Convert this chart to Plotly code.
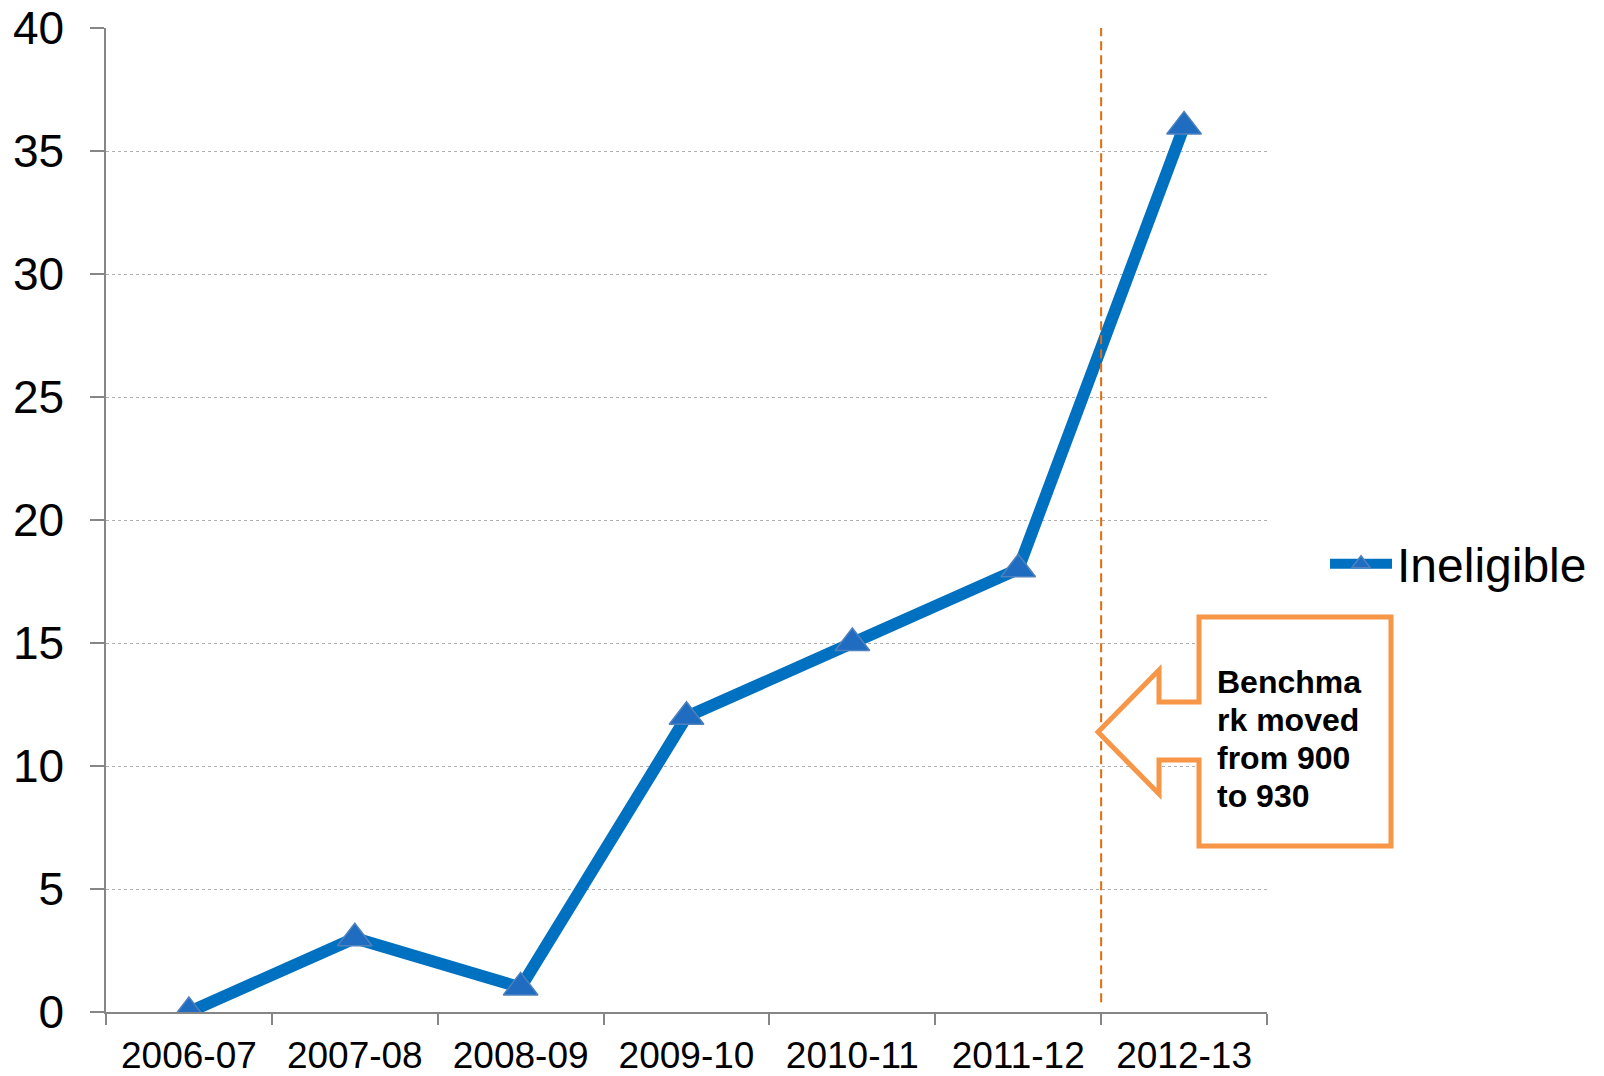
import plotly.graph_objects as go

categories = ["2006-07", "2007-08", "2008-09", "2009-10", "2010-11", "2011-12", "2012-13"]
ineligible = [0, 3, 1, 12, 15, 18, 36]
y_ticks = [0, 5, 10, 15, 20, 25, 30, 35, 40]
callout_lines = ["Benchma", "rk moved", "from 900", "to 930"]
series_name = "Ineligible"

OFF = 8  # default page body margin
W, H = 1604 - OFF, 1076 - OFF
L, R, T, B = 106, 1267, 28, 1012  # plot area edges in window pixels


def px(x):
    return (x - L) / (R - L)


def py(y):
    return (B - y) / (B - T)


FONT = "Liberation Sans, Arial, sans-serif"

fig = go.Figure()
fig.add_trace(go.Scatter(
    x=categories, y=ineligible, name=series_name, mode="lines+markers",
    line=dict(color="#0070C0", width=12),
    marker=dict(symbol="triangle-up", size=30, color="#1F6CC0",
                line=dict(color="#4F81BD", width=1.5)),
))

# benchmark change marker between 2011-12 and 2012-13
fig.add_shape(type="line", xref="x", yref="y", x0=5.5, x1=5.5, y0=0.4, y1=40,
              line=dict(color="#E46C0A", width=2, dash="9px,5px"), layer="above")

# callout arrow box
pts = [(1098, 732), (1159, 670), (1159, 702), (1199, 702), (1199, 617), (1391, 617),
       (1391, 846), (1199, 846), (1199, 760), (1159, 760), (1159, 794)]
path = "M " + " L ".join(f"{px(a):.5f},{py(b):.5f}" for a, b in pts) + " Z"
fig.add_shape(type="path", xref="paper", yref="paper", path=path,
              fillcolor="white", line=dict(color="#F79646", width=5), layer="above")
for i, line_text in enumerate(callout_lines):
    fig.add_annotation(xref="paper", yref="paper", x=px(1215), y=py(682 + 38 * i),
                       xanchor="left", yanchor="middle", align="left", showarrow=False,
                       text=line_text,
                       font=dict(family=FONT, size=32, color="black", weight="bold"))

fig.update_layout(
    width=W, height=H, plot_bgcolor="white", paper_bgcolor="white",
    margin=dict(l=L - OFF, r=W - (R - OFF), t=T - OFF, b=H - (B - OFF), pad=0,
                autoexpand=False),
    font=dict(family=FONT, color="black"),
    showlegend=True,
    legend=dict(xref="container", yref="container",
                x=(1325 - OFF) / W, xanchor="left",
                y=1 - (564 - OFF) / H, yanchor="middle",
                font=dict(family=FONT, size=48, color="black"),
                bgcolor="rgba(0,0,0,0)", itemwidth=62),
)
fig.update_xaxes(
    type="category", range=[-0.5, 6.5], tickson="boundaries", ticks="outside",
    ticklen=11, tickcolor="#868686", tickwidth=1.5, showline=True, linecolor="#868686",
    linewidth=1.5, showgrid=False, tickfont=dict(family=FONT, size=37, color="black"),
    ticklabelstandoff=10, zeroline=False, automargin=False, ticklabeloverflow="allow",
)
fig.update_yaxes(
    range=[0, 40], tickvals=y_ticks, ticks="outside", ticklen=14, tickcolor="#868686",
    tickwidth=1.5, showline=True, linecolor="#868686", linewidth=1.5,
    showgrid=True, gridcolor="#B0B0B0", gridwidth=1, griddash="dot",
    tickfont=dict(family=FONT, size=46, color="black"), ticklabelstandoff=17,
    zeroline=False, automargin=False, ticklabeloverflow="allow",
)
fig.write_html("out.html")
